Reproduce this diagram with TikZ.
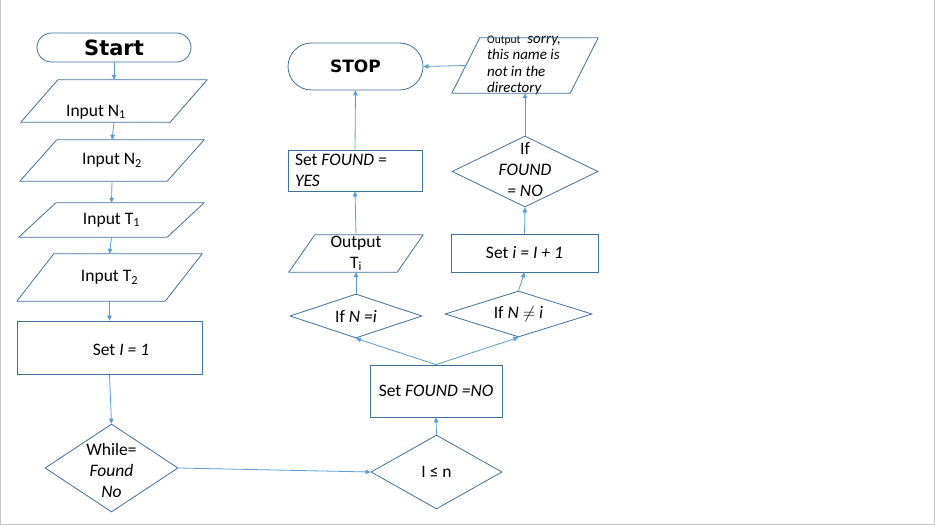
\documentclass[tikz,border=0pt]{standalone}
\usepackage{fontspec}
\setmainfont{Carlito}
\newfontfamily\headfont{DejaVu Sans}
\usetikzlibrary{shapes.geometric,shapes.misc,arrows.meta}
\definecolor{edgeblue}{HTML}{41719C}
\definecolor{arrowblue}{HTML}{5B9BD5}
\definecolor{pageline}{HTML}{C6C6C6}
\tikzset{
  every node/.style={font=\fontsize{17.5}{21}\selectfont, inner sep=0pt},
  term/.style={rounded rectangle, draw=edgeblue, line width=0.8pt},
  iobox/.style={rectangle},
  ioedge/.style={draw=edgeblue, line width=0.8pt, line join=round},
  proc/.style={rectangle, draw=edgeblue, line width=0.8pt},
  decide/.style={diamond, inner sep=2pt, draw=edgeblue, line width=0.8pt},
  flow/.style={arrowblue, line width=0.8pt, -{Triangle[length=5pt,width=4.5pt]}}
}
% parallelogram round an iobox node: name, slant offset
\newcommand{\slantbox}[2]{%
  \draw[ioedge] ([xshift=#2]#1.north west) -- (#1.north east)
    -- ([xshift=-#2]#1.south east) -- (#1.south west) -- cycle;}

\begin{document}
\begin{tikzpicture}[x=1pt,y=-1pt]
\useasboundingbox (0,0) rectangle (935,527);
\fill[white] (0,0) rectangle (935,527);
\draw[pageline] (0.5,0) |- (934.5,524) -- (934.5,0);

% left column: inputs
\node[term, minimum width=154pt, minimum height=29pt,
  font=\headfont\bfseries\fontsize{21}{25}\selectfont] (start) at (114,47.5) {Start};
\node[iobox, minimum width=186pt, minimum height=42pt] (inN1) at (114,101) {};
\node at ([xshift=-18pt,yshift=-11pt]inN1.center) {Input N\textsubscript{1}};
\node[iobox, minimum width=184pt, minimum height=41pt] (inN2) at (112,160.5) {Input N\textsubscript{2}};
\node[iobox, minimum width=185pt, minimum height=34pt] (inT1) at (111.5,220) {Input T\textsubscript{1}};
\node[iobox, minimum width=185pt, minimum height=47pt] (inT2) at (109.5,277.5) {Input T\textsubscript{2}};
\slantbox{inN1}{37pt}
\slantbox{inN2}{37pt}
\slantbox{inT1}{37pt}
\slantbox{inT2}{37pt}
\node[proc, minimum width=185pt, minimum height=53pt,
  label={[xshift=11.5pt,yshift=-2.5pt]center:Set \textit{I = 1}}] (setI) at (109.5,347.5) {};
\node[decide, minimum width=133pt, minimum height=88pt,
  label={[align=center,yshift=-2pt,inner sep=0pt]center:While=\\\textit{Found}\\\textit{No}}] (while) at (111.5,468) {};

% loop
\node[decide, minimum width=131pt, minimum height=74pt,
  label={center:I ≤ n}] (cond) at (436.5,472) {};
\node[proc, minimum width=132pt, minimum height=52pt] (setNO) at (436,391) {Set \textit{FOUND =NO}};
\node[decide, minimum width=132pt, minimum height=44pt,
  label={center:If \textit{N =i}}] (ifEq) at (356,316) {};
\node[decide, minimum width=147pt, minimum height=46pt,
  label={center:If \textit{N} $\neq$ \textit{i}}] (ifNe) at (518.5,314) {};

% found branch
\node[iobox, minimum width=134pt, minimum height=37pt] (outT) at (356,253.5) {};
\node[align=center] at (outT.center) {Output\\T\textsubscript{i}};
\slantbox{outT}{26pt}
\node[proc, minimum width=134pt, minimum height=41pt, text width=120pt, align=flush left]
  (setYES) at (355,170.5) {Set \textit{FOUND =}\\\textit{YES}};
\node[term, minimum width=135pt, minimum height=47pt,
  font=\headfont\bfseries\fontsize{17}{20}\selectfont] (stop) at (355.5,66.5) {STOP};

% not found branch
\node[proc, minimum width=147pt, minimum height=38pt] (setInc) at (524.5,253) {Set \textit{i = I + 1}};
\node[decide, minimum width=146pt, minimum height=71pt,
  label={[align=center,yshift=1.5pt,inner sep=0pt]center:If\\\textit{FOUND}\\\textit{= NO}}] (ifFound) at (525,171.5) {};
\node[iobox, minimum width=146pt, minimum height=55pt] (sorry) at (525,65.5) {};
\node[align=flush left, font=\fontsize{15}{16.3}\selectfont] at ([xshift=-1pt]sorry.center)
  {{\fontsize{11.5}{13}\selectfont Output}\ \ \textit{sorry,}\\\textit{this name is}\\\textit{not in the}\\\textit{directory}};
\slantbox{sorry}{28pt}

% connectors
\draw[flow] (start.south) -- (inN1.north);
\draw[flow] (inN1.south) -- (inN2.north);
\draw[flow] (inN2.south) -- (inT1.north);
\draw[flow] (inT1.south) -- (inT2.north);
\draw[flow] (inT2.south) -- (setI.north);
\draw[flow] (setI.south) -- (while.north);
\draw[flow] (while.east) -- (cond.west);
\draw[flow] (cond.north) -- (setNO.south);
\draw[flow] (setNO.north) -- (ifEq.south);
\draw[flow] (setNO.north) -- (ifNe.south);
\draw[flow] (ifEq.north) -- (outT.south);
\draw[flow] (outT.north) -- (setYES.south);
\draw[flow] (setYES.north) -- (stop.south);
\draw[flow] (ifNe.north) -- (setInc.south);
\draw[flow] (setInc.north) -- (ifFound.south);
\draw[flow] (ifFound.north) -- (sorry.south);
\draw[flow] ([xshift=14pt]sorry.west) -- (stop.east);
\end{tikzpicture}
\end{document}
